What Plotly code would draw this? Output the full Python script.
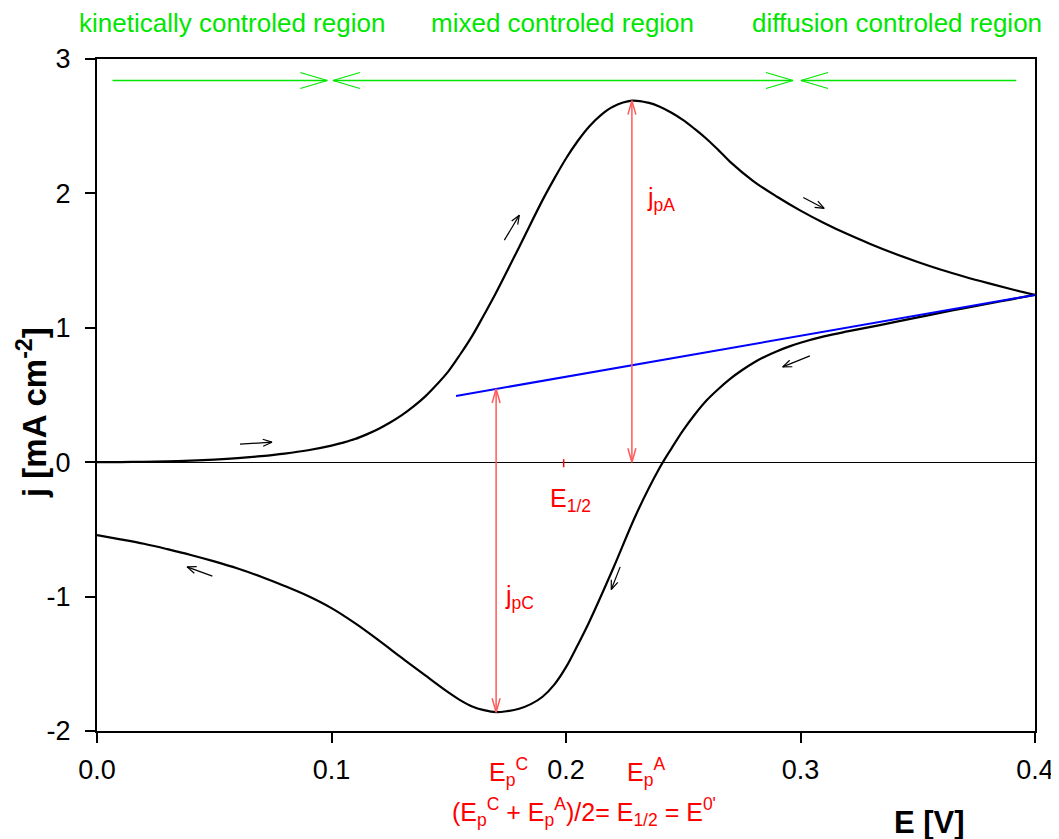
import numpy as np
import plotly.graph_objects as go

# ---------------- data ----------------
# forward (anodic) scan, E = 0.00 ... 0.40 V
E_fwd = [0.00, 0.01, 0.02, 0.03, 0.04, 0.05, 0.06, 0.07, 0.08, 0.09,
         0.10, 0.105, 0.11, 0.115, 0.12, 0.125, 0.13, 0.135, 0.14, 0.145,
         0.15, 0.155, 0.16, 0.165, 0.17, 0.18, 0.19, 0.195, 0.20, 0.205,
         0.21, 0.215, 0.22, 0.2281, 0.235, 0.24, 0.245, 0.25, 0.255, 0.26,
         0.265, 0.27, 0.28, 0.29, 0.30, 0.31, 0.32, 0.33, 0.34, 0.35,
         0.36, 0.37, 0.38, 0.39, 0.40]
j_fwd = [0.000, 0.001, 0.003, 0.006, 0.011, 0.019, 0.030, 0.045, 0.064, 0.089,
         0.123, 0.146, 0.172, 0.207, 0.247, 0.295, 0.350, 0.415, 0.490, 0.580,
         0.680, 0.805, 0.940, 1.095, 1.255, 1.600, 1.950, 2.110, 2.260, 2.390,
         2.500, 2.585, 2.645, 2.690, 2.675, 2.645, 2.600, 2.545, 2.478, 2.405,
         2.322, 2.235, 2.090, 1.975, 1.872, 1.780, 1.697, 1.622, 1.553, 1.490,
         1.432, 1.380, 1.332, 1.287, 1.245]
# reverse (cathodic) scan, E = 0.40 ... 0.00 V
E_rev = [0.40, 0.39, 0.38, 0.37, 0.36, 0.35, 0.34, 0.33, 0.32, 0.31,
         0.30, 0.295, 0.29, 0.285, 0.28, 0.275, 0.27, 0.265, 0.26, 0.255,
         0.25, 0.245, 0.24, 0.23, 0.22, 0.21, 0.205, 0.20, 0.195, 0.19,
         0.185, 0.18, 0.175, 0.1702, 0.165, 0.16, 0.155, 0.15, 0.14, 0.13,
         0.12, 0.11, 0.10, 0.09, 0.08, 0.07, 0.06, 0.05, 0.04, 0.03,
         0.02, 0.01, 0.00]
j_rev = [1.245, 1.212, 1.179, 1.146, 1.113, 1.077, 1.042, 1.007, 0.973, 0.936,
         0.889, 0.860, 0.826, 0.787, 0.740, 0.684, 0.620, 0.545, 0.461, 0.357,
         0.238, 0.103, -0.040, -0.385, -0.795, -1.185, -1.360, -1.525, -1.655, -1.745,
         -1.800, -1.834, -1.852, -1.860, -1.845, -1.818, -1.772, -1.715, -1.587, -1.456,
         -1.324, -1.198, -1.086, -0.996, -0.921, -0.852, -0.791, -0.738, -0.690, -0.647,
         -0.607, -0.574, -0.543]
# baseline (blue)
E_base = [0.1531, 0.4]
j_base = [0.493, 1.245]

# characteristic values
Ep_C = 0.1702
Ep_A = 0.2281
jp_A = 2.690
jp_C_min = -1.860
E_half = 0.199

# scan-direction arrows: (E_from, j_from, E_to, j_to)
scan_arrows = [
    (0.0610, 0.134, 0.0746, 0.149),
    (0.1737, 1.652, 0.1801, 1.838),
    (0.3012, 1.970, 0.3101, 1.888),
    (0.3040, 0.791, 0.2924, 0.709),
    (0.2231, -0.779, 0.2193, -0.947),
    (0.0492, -0.848, 0.0384, -0.779),
]
# region arrows (green): (E_start, E_end, head_at_start, head_at_end)
region_y = 2.84
region_arrows = [
    (0.0066, 0.0982, False, True),
    (0.1006, 0.2968, True, True),
    (0.3002, 0.3920, True, False),
]
region_labels = ["kinetically controled region", "mixed controled region",
                 "diffusion controled region"]
region_label_x = [0.0574, 0.1987, 0.3411]

x_ticks = [0.0, 0.1, 0.2, 0.3, 0.4]
x_tick_labels = ["0.0", "0.1", "0.2", "0.3", "0.4"]
y_ticks = [-2, -1, 0, 1, 2, 3]
y_tick_labels = ["-2", "-1", "0", "1", "2", "3"]
x_range = [0.0, 0.4]
y_range = [-2, 3]

# ---------------- layout geometry ----------------
OFF = 8                      # default page body margin
W, H = 1059 - OFF, 839 - OFF
ML, MR, MT, MB = 97 - OFF, 24, 59 - OFF, 108
PW, PH = W - ML - MR, H - MT - MB
sx = PW / (x_range[1] - x_range[0])
sy = PH / (y_range[1] - y_range[0])
PLOT_BOTTOM = OFF + MT + PH   # window pixel of plot bottom


def paper_x(px):
    return (px - (OFF + ML)) / PW


def paper_y(py):
    return (PLOT_BOTTOM - py) / PH


FONT = "Liberation Sans, Arial, Helvetica, sans-serif"
GREEN = "#00e600"
RED_LINE = "rgb(255,90,90)"


def head(xt, yt, xf, yf, L, Wd):
    dx, dy = (xt - xf) * sx, (yt - yf) * sy
    n = np.hypot(dx, dy)
    ux, uy = dx / n, dy / n
    px, py = -uy, ux
    w1 = (xt + (-L * ux + Wd * px) / sx, yt + (-L * uy + Wd * py) / sy)
    w2 = (xt + (-L * ux - Wd * px) / sx, yt + (-L * uy - Wd * py) / sy)
    return [w1[0], xt, w2[0], None], [w1[1], yt, w2[1], None]


def arrow(xf, yf, xt, yt, L, Wd, start=False, end=True):
    xs, ys = [xf, xt, None], [yf, yt, None]
    if end:
        hx, hy = head(xt, yt, xf, yf, L, Wd)
        xs += hx; ys += hy
    if start:
        hx, hy = head(xf, yf, xt, yt, L, Wd)
        xs += hx; ys += hy
    return xs, ys


fig = go.Figure()

# curves
for ex, jy in ((E_fwd, j_fwd), (E_rev, j_rev)):
    fig.add_trace(go.Scatter(x=ex, y=jy, mode="lines",
                             line=dict(color="black", width=2.2, shape="spline", smoothing=1.0),
                             showlegend=False, hoverinfo="skip"))
fig.add_trace(go.Scatter(x=E_base, y=j_base, mode="lines",
                         line=dict(color="#0000ff", width=2),
                         showlegend=False, hoverinfo="skip"))

# scan arrows
ax, ay = [], []
for (xf, yf, xt, yt) in scan_arrows:
    a, b = arrow(xf, yf, xt, yt, 9, 3.5)
    ax += a; ay += b
fig.add_trace(go.Scatter(x=ax, y=ay, mode="lines", line=dict(color="black", width=1.2),
                         showlegend=False, hoverinfo="skip"))

# red peak arrows
j_base_at_C = float(np.interp(Ep_C, E_base, j_base))
rx, ry = [], []
a, b = arrow(Ep_A, 0.0, Ep_A, jp_A, 14, 4, start=True, end=True)
rx += a; ry += b
a, b = arrow(Ep_C, jp_C_min, Ep_C, j_base_at_C, 14, 4, start=True, end=True)
rx += a; ry += b
fig.add_trace(go.Scatter(x=rx, y=ry, mode="lines", line=dict(color=RED_LINE, width=1.5),
                         showlegend=False, hoverinfo="skip"))

# green region arrows
gx, gy = [], []
for (e0, e1, hs, he) in region_arrows:
    a, b = arrow(e0, region_y, e1, region_y, 27, 8, start=hs, end=he)
    gx += a; gy += b
fig.add_trace(go.Scatter(x=gx, y=gy, mode="lines", line=dict(color=GREEN, width=1.3),
                         showlegend=False, hoverinfo="skip"))

# red tick marks
shapes = []
for e in (Ep_C, Ep_A):
    shapes.append(dict(type="line", xref="x", yref="y", x0=e, x1=e,
                       ysizemode="pixel", yanchor=y_range[0], y0=0, y1=-11,
                       line=dict(color=RED_LINE, width=1.5)))
shapes.append(dict(type="line", xref="x", yref="y", x0=E_half, x1=E_half,
                   ysizemode="pixel", yanchor=0, y0=3, y1=-5,
                   line=dict(color="red", width=1.5)))

annotations = []
for lab, xx in zip(region_labels, region_label_x):
    annotations.append(dict(text=lab, x=xx, y=paper_y(23),
                            xref="x", yref="paper", showarrow=False,
                            xanchor="center", yanchor="middle",
                            font=dict(family=FONT, size=26, color=GREEN)))

red_font = dict(family=FONT, size=25, color="red")
annotations += [
    dict(text="j<sub>pA</sub>", x=0.2337, y=1.96, xref="x", yref="y", showarrow=False,
         xanchor="left", yanchor="middle", font=red_font),
    dict(text="j<sub>pC</sub>", x=0.1731, y=-1.00, xref="x", yref="y", showarrow=False,
         xanchor="left", yanchor="middle", font=red_font),
    dict(text="E<sub>1/2</sub>", x=0.1923, y=-0.28, xref="x", yref="y", showarrow=False,
         xanchor="left", yanchor="middle", font=red_font),
    dict(text="E<sub>p</sub><sup>C</sup>", x=0.1663, y=paper_y(772), xref="x", yref="paper",
         showarrow=False, xanchor="left", yanchor="middle", font=red_font),
    dict(text="E<sub>p</sub><sup>A</sup>", x=0.2252, y=paper_y(772), xref="x", yref="paper",
         showarrow=False, xanchor="left", yanchor="middle", font=red_font),
    dict(text="(E<sub>p</sub><sup>C</sup> + E<sub>p</sub><sup>A</sup>)/2= E<sub>1/2</sub> = E<sup>0'</sup>",
         x=0.1505, y=paper_y(812), xref="x", yref="paper", showarrow=False,
         xanchor="left", yanchor="middle", font=red_font),
    dict(text="<b>E [V]</b>", x=paper_x(929), y=paper_y(822),
         xref="paper", yref="paper", showarrow=False, xanchor="center", yanchor="middle",
         font=dict(family=FONT, size=31, color="black")),
    dict(text="<b>j [mA cm<sup>-2</sup>]</b>", x=paper_x(32), y=paper_y(413),
         xref="paper", yref="paper", showarrow=False,
         textangle=-90, xanchor="center", yanchor="middle",
         font=dict(family=FONT, size=33, color="black")),
]

axis_common = dict(showgrid=False, ticks="outside", ticklen=10, tickwidth=1.5,
                   tickcolor="black", showline=True, linecolor="black", linewidth=2,
                   mirror=True, tickfont=dict(family=FONT, size=27, color="black"))

fig.update_layout(
    width=W, height=H,
    margin=dict(l=ML, r=MR, t=MT, b=MB, autoexpand=False),
    paper_bgcolor="white", plot_bgcolor="white",
    xaxis=dict(range=x_range, tickvals=x_ticks, ticktext=x_tick_labels, zeroline=False,
               ticklabelstandoff=4, **axis_common),
    yaxis=dict(range=y_range, tickvals=y_ticks, ticktext=y_tick_labels, zeroline=True,
               zerolinecolor="black", zerolinewidth=1.2, ticklabelstandoff=9, **axis_common),
    shapes=shapes, annotations=annotations,
)

fig.write_html("out.html")
